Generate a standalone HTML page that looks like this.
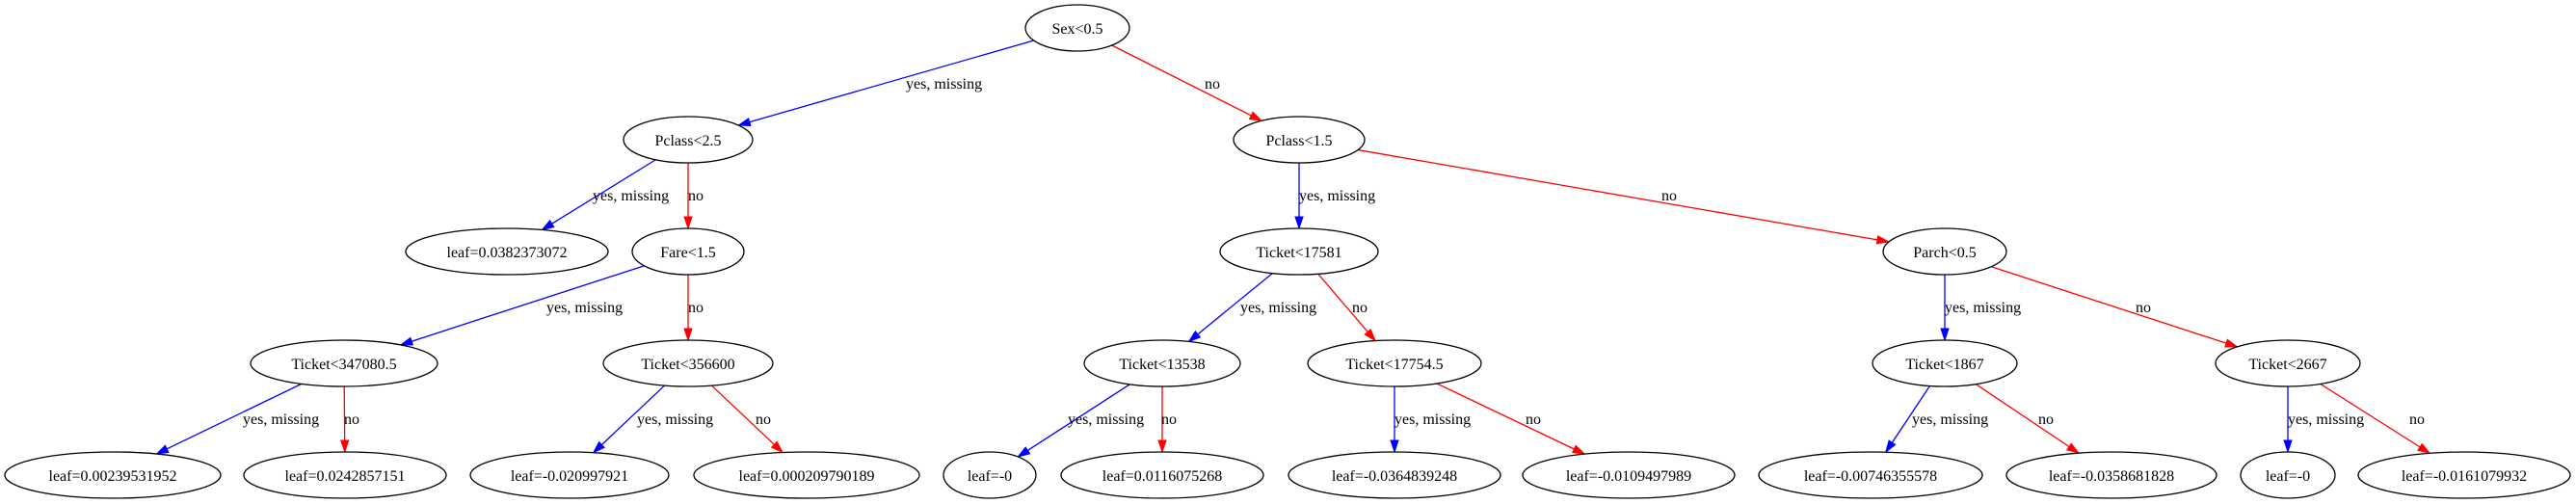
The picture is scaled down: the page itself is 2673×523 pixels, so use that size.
<!DOCTYPE html>
<html><head><meta charset="utf-8"><style>
html,body{margin:0;padding:0;background:#fff;}
svg{display:block;}
text{font-family:"Liberation Serif",serif;font-size:16px;fill:#000;}
</style></head><body>
<svg id="s" width="2673" height="523" viewBox="0 0 2673 523" xmlns="http://www.w3.org/2000/svg">
<g id="edges"></g>
<g id="nodes" fill="#fff" stroke="#000" stroke-width="1.3">
<ellipse cx="1118" cy="29" rx="54" ry="24"/>
<ellipse cx="714" cy="145" rx="67" ry="24"/>
<ellipse cx="1348" cy="145" rx="68" ry="24"/>
<ellipse cx="526" cy="261" rx="105" ry="24"/>
<ellipse cx="714" cy="261" rx="58" ry="24"/>
<ellipse cx="1348" cy="261" rx="82" ry="24"/>
<ellipse cx="2018" cy="261" rx="64" ry="24"/>
<ellipse cx="357" cy="377" rx="97" ry="24"/>
<ellipse cx="714" cy="377" rx="88" ry="24"/>
<ellipse cx="1206" cy="377" rx="81" ry="24"/>
<ellipse cx="1447" cy="377" rx="90" ry="24"/>
<ellipse cx="2018" cy="377" rx="75" ry="24"/>
<ellipse cx="2374" cy="377" rx="75" ry="24"/>
<ellipse cx="117" cy="493" rx="112" ry="24"/>
<ellipse cx="358" cy="493" rx="105" ry="24"/>
<ellipse cx="591" cy="493" rx="103" ry="24"/>
<ellipse cx="837" cy="493" rx="117" ry="24"/>
<ellipse cx="1027" cy="493" rx="48" ry="24"/>
<ellipse cx="1206" cy="493" rx="105" ry="24"/>
<ellipse cx="1447" cy="493" rx="110" ry="24"/>
<ellipse cx="1690" cy="493" rx="110" ry="24"/>
<ellipse cx="1941" cy="493" rx="116" ry="24"/>
<ellipse cx="2191" cy="493" rx="109" ry="24"/>
<ellipse cx="2374" cy="493" rx="49" ry="24"/>
<ellipse cx="2557" cy="493" rx="110" ry="24"/>
</g>
<g text-anchor="middle">
<text x="1118" y="35">Sex&lt;0.5</text>
<text x="714" y="151">Pclass&lt;2.5</text>
<text x="1348" y="151">Pclass&lt;1.5</text>
<text x="526" y="267">leaf=0.0382373072</text>
<text x="714" y="267">Fare&lt;1.5</text>
<text x="1348" y="267">Ticket&lt;17581</text>
<text x="2018" y="267">Parch&lt;0.5</text>
<text x="357" y="383">Ticket&lt;347080.5</text>
<text x="714" y="383">Ticket&lt;356600</text>
<text x="1206" y="383">Ticket&lt;13538</text>
<text x="1447" y="383">Ticket&lt;17754.5</text>
<text x="2018" y="383">Ticket&lt;1867</text>
<text x="2374" y="383">Ticket&lt;2667</text>
<text x="117" y="499">leaf=0.00239531952</text>
<text x="358" y="499">leaf=0.0242857151</text>
<text x="591" y="499">leaf=-0.020997921</text>
<text x="837" y="499">leaf=0.000209790189</text>
<text x="1027" y="499">leaf=-0</text>
<text x="1206" y="499">leaf=0.0116075268</text>
<text x="1447" y="499">leaf=-0.0364839248</text>
<text x="1690" y="499">leaf=-0.0109497989</text>
<text x="1941" y="499">leaf=-0.00746355578</text>
<text x="2191" y="499">leaf=-0.0358681828</text>
<text x="2374" y="499">leaf=-0</text>
<text x="2557" y="499">leaf=-0.0161079932</text>
</g>
<g>
<text x="940" y="92">yes, missing</text>
<text x="1250" y="92">no</text>
<text x="615" y="208">yes, missing</text>
<text x="714" y="208">no</text>
<text x="1348" y="208">yes, missing</text>
<text x="1724" y="208">no</text>
<text x="567" y="324">yes, missing</text>
<text x="714" y="324">no</text>
<text x="1287" y="324">yes, missing</text>
<text x="1403" y="324">no</text>
<text x="2018" y="324">yes, missing</text>
<text x="2216" y="324">no</text>
<text x="252" y="440">yes, missing</text>
<text x="357" y="440">no</text>
<text x="661" y="440">yes, missing</text>
<text x="784" y="440">no</text>
<text x="1108" y="440">yes, missing</text>
<text x="1205" y="440">no</text>
<text x="1447" y="440">yes, missing</text>
<text x="1583" y="440">no</text>
<text x="1984" y="440">yes, missing</text>
<text x="2115" y="440">no</text>
<text x="2374" y="440">yes, missing</text>
<text x="2500" y="440">no</text>
</g>
</svg>
<script>
(function(){
var N={S:[1118,29,54],P25:[714,145,67],P15:[1348,145,68],L1:[526,261,105],F:[714,261,58],T17581:[1348,261,82],Pa:[2018,261,64],
T347:[357,377,97],T356:[714,377,88],T135:[1206,377,81],T177:[1447,377,90],T186:[2018,377,75],T266:[2374,377,75],
a:[117,493,112],b:[358,493,105],c:[591,493,103],d:[837,493,117],e:[1027,493,48],f:[1206,493,105],g:[1447,493,110],h:[1690,493,110],i:[1941,493,116],j:[2191,493,109],k:[2374,493,49],l:[2557,493,110]};
var E=[["S","P25","b"],["S","P15","r"],["P25","L1","b"],["P25","F","r"],["P15","T17581","b"],["P15","Pa","r"],
["F","T347","b"],["F","T356","r"],["T17581","T135","b"],["T17581","T177","r"],["Pa","T186","b"],["Pa","T266","r"],
["T347","a","b"],["T347","b","r"],["T356","c","b"],["T356","d","r"],["T135","e","b"],["T135","f","r"],
["T177","g","b"],["T177","h","r"],["T186","i","b"],["T186","j","r"],["T266","k","b"],["T266","l","r"]];
function bd(n,dx,dy){var rx=n[2],ry=24;var t=1/Math.sqrt(dx*dx/(rx*rx)+dy*dy/(ry*ry));return [n[0]+dx*t,n[1]+dy*t];}
var g=document.getElementById("edges"),ns="http://www.w3.org/2000/svg",h="";
E.forEach(function(e){var p=N[e[0]],c=N[e[1]];var dx=c[0]-p[0],dy=c[1]-p[1];
var s=bd(p,dx,dy),t=bd(c,-dx,-dy);var col=e[2]=="b"?"#0000ff":"#ff0000";
var L=Math.hypot(t[0]-s[0],t[1]-s[1]),ux=(t[0]-s[0])/L,uy=(t[1]-s[1])/L;
var bx=t[0]-ux*12,by=t[1]-uy*12;
h+='<line x1="'+s[0]+'" y1="'+s[1]+'" x2="'+bx+'" y2="'+by+'" stroke="'+col+'" stroke-width="1.3"/>';
h+='<polygon points="'+t[0]+','+t[1]+' '+(bx-uy*4)+','+(by+ux*4)+' '+(bx+uy*4)+','+(by-ux*4)+'" fill="'+col+'" stroke="'+col+'"/>';});
g.innerHTML=h;})();
</script>
</body></html>
